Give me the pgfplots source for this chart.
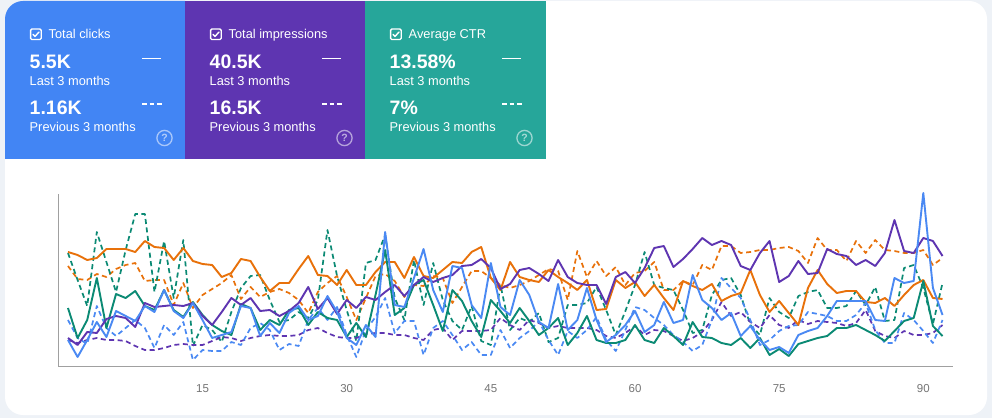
\documentclass[border=0pt]{standalone}
\usepackage{pgfplots}
\pgfplotsset{compat=1.18}
\usepackage{pgfplotstable}
\usepackage{fontspec}
\setmainfont{Liberation Sans}

\definecolor{pagebg}{HTML}{EEF2F7}
\definecolor{tileblue}{HTML}{4285F4}
\definecolor{tilepurple}{HTML}{5E35B1}
\definecolor{tileteal}{HTML}{26A69A}
\definecolor{clkcol}{HTML}{4A89F3}
\definecolor{impcol}{HTML}{5E35B1}
\definecolor{ctrcol}{HTML}{0B8A74}
\definecolor{poscol}{HTML}{E8710A}
\definecolor{axisgray}{HTML}{A0A0A0}
\definecolor{ticktext}{HTML}{757575}

% daily series (pixel row of each point; axis base = 366)
\pgfplotstableread{
day clk clkp imp impp ctr ctrp pos posp
1 340 320 338 340 308 253 252 266
2 357 338 345 343 338 280 255 279
3 340 344 332 340 320 306 260 280
4 322 306 333 338 278 232 258 274
5 337 328 319 340 328 262 249 277
6 311 336 316 340 294 292 249 269
7 316 328 318 341 298 250 249 265
8 321 320 327 346 291 214 252 263
9 306 328 303 350 306 214 241 281
10 312 348 307 350 310 292 247 280
11 290 325 306 348 290 241 248 280
12 311 335 305 345 310 298 260 305
13 318 322 306 344 317 240 248 283
14 303 360 303 345 302 346 261 308
15 320 350 316 345 315 325 264 295
16 338 351 325 341 325 330 265 289
17 335 351 312 337 331 342 277 283
18 332 342 298 338 335 312 273 275
19 306 345 305 341 304 288 259 299
20 308 328 298 338 308 276 261 287
21 336 323 311 336 330 275 277 297
22 323 330 310 335 320 300 291 292
23 333 350 316 336 325 322 283 289
24 313 344 311 336 310 320 283 293
25 306 346 303 335 308 312 269 300
26 320 320 287 330 325 318 256 313
27 316 308 309 328 312 300 275 292
28 296 320 298 333 318 230 276 283
29 312 307 314 337 320 276 285 276
30 338 335 300 338 337 310 270 297
31 345 357 308 338 323 341 285 320
32 325 330 297 334 337 263 285 298
33 337 317 300 333 295 260 272 276
34 232 298 292 333 250 235 262 274
35 305 333 285 335 315 298 262 281
36 307 321 296 335 308 320 278 297
37 278 321 285 338 285 260 257 285
38 249 355 277 340 280 305 276 286
39 290 328 282 330 305 263 278 276
40 312 321 278 328 331 300 270 278
41 266 335 275 340 290 321 262 303
42 268 350 266 331 301 330 263 287
43 305 342 265 331 321 306 252 271
44 318 355 259 331 337 341 247 271
45 263 355 268 330 300 345 278 278
46 307 330 289 318 311 285 290 285
47 315 348 284 325 323 330 262 288
48 280 338 270 330 308 318 277 285
49 295 331 268 320 321 322 280 281
50 322 321 274 323 335 313 282 275
51 328 340 281 328 328 342 270 269
52 284 355 260 326 318 338 277 271
53 330 331 277 328 345 305 283 300
54 320 338 283 328 333 305 290 251
55 288 330 285 328 316 303 280 277
56 320 317 285 330 340 287 310 261
57 342 340 304 336 343 310 309 276
58 335 351 277 338 343 335 280 267
59 325 330 272 333 340 311 288 285
60 311 307 283 326 325 285 282 273
61 332 310 268 335 340 252 296 271
62 325 318 248 330 343 285 285 262
63 302 325 246 331 328 288 298 290
64 323 335 267 336 336 290 310 290
65 320 342 259 341 345 310 281 281
66 275 351 249 338 322 333 286 285
67 300 345 238 332 337 330 290 265
68 308 320 245 320 338 295 284 270
69 320 278 241 302 343 280 301 246
70 313 288 245 316 345 278 296 246
71 336 298 266 312 338 295 293 253
72 326 320 270 322 348 325 270 252
73 340 345 253 328 338 335 295 250
74 350 340 241 315 355 298 312 250
75 347 331 282 325 349 312 301 248
76 353 326 276 328 356 318 313 247
77 335 325 261 320 344 296 325 251
78 331 312 274 324 341 292 288 263
79 328 314 273 321 338 290 270 238
80 316 316 249 322 336 308 284 250
81 301 321 254 323 328 308 293 250
82 301 321 256 326 328 306 291 261
83 301 315 265 323 325 291 291 241
84 301 303 260 310 330 305 302 253
85 320 330 266 331 335 287 303 240
86 321 343 253 336 341 321 298 250
87 278 343 220 338 331 320 306 251
88 283 313 251 331 321 268 295 253
89 281 320 253 335 318 265 285 253
90 193 331 238 335 281 288 280 250
91 288 343 241 333 326 324 298 265
92 315 320 256 325 336 283 299 258
}\daily

\newcommand{\tilebody}[4]{%
  \begin{scope}[shift={(#1,0)}]
    \draw[white, line width=1.3pt, rounded corners=1.3pt] (30.6,378.4) rectangle (41.2,389);
    \draw[white, line width=1.4pt, line cap=round, line join=round] (33,383.6) -- (35,381.5) -- (39,386);
    \node[anchor=base west, inner sep=0, text=white, font=\fontsize{12.8}{15}\selectfont] at (48.5,379.5) {#2};
    \node[anchor=base west, inner sep=0, text=white, font=\fontsize{19.5}{22}\selectfont\bfseries] at (29.5,349) {#3};
    \node[anchor=base west, inner sep=0, text=white, font=\fontsize{12.8}{15}\selectfont] at (29.5,332) {Last 3 months};
    \node[anchor=base west, inner sep=0, text=white, font=\fontsize{19.5}{22}\selectfont\bfseries] at (29.5,303) {#4};
    \node[anchor=base west, inner sep=0, text=white, font=\fontsize{12.8}{15}\selectfont] at (29.5,286.5) {Previous 3 months};
    \draw[white, line width=1.7pt] (142,359.5) -- (161,359.5);
    \draw[white, line width=1.7pt, dash pattern=on 4.5pt off 3pt] (142,314) -- (162,314);
    \draw[white, opacity=0.55, line width=1.3pt] (164.5,280) circle (7.6);
    \node[text=white, opacity=0.6, inner sep=0, font=\fontsize{10.5}{11}\selectfont\bfseries] at (164.5,280) {?};
  \end{scope}}

\begin{document}
\begin{tikzpicture}[x=1pt, y=1pt]
  \useasboundingbox (0,0) rectangle (992,418);
  \fill[pagebg] (0,0) rectangle (992,418);
  \fill[white, rounded corners=18pt] (5,3) rectangle (987,417);
  % metric tiles
  \fill[tileblue] (185,259) -- (5,259) [rounded corners=18pt] -- (5,417) [sharp corners] -- (185,417) -- cycle;
  \fill[tilepurple] (185,259) rectangle (365,417);
  \fill[tileteal] (365,259) rectangle (545.5,417);
  \tilebody{0}{Total clicks}{5.5K}{1.16K}
  \tilebody{180}{Total impressions}{40.5K}{16.5K}
  \tilebody{360}{Average CTR}{13.58\%}{7\%}

  \begin{axis}[
      at={(58pt,52pt)}, anchor=south west,
      scale only axis,
      width=895pt, height=172pt,
      xmin=-0.04, xmax=93.09,
      ymin=0, ymax=172,
      clip=false,
      axis x line*=bottom, axis y line*=left,
      axis line style={draw=axisgray, line width=1pt},
      xtick={15,30,45,60,75,90},
      ytick=\empty,
      major tick length=0pt,
      /pgf/number format/assume math mode=true,
      xticklabel style={font=\fontsize{11.5}{13}\selectfont, text=ticktext, anchor=base, yshift=-26pt},
      every axis plot/.append style={mark=none, line join=round},
    ]
    \addplot[draw=poscol, line width=1.7pt, dash pattern=on 5pt off 3.5pt] table[x=day, y expr=366-\thisrow{posp}] {\daily};
    \addplot[draw=ctrcol, line width=1.7pt, dash pattern=on 5pt off 3.5pt] table[x=day, y expr=366-\thisrow{ctrp}] {\daily};
    \addplot[draw=impcol, line width=1.7pt, dash pattern=on 5pt off 3.5pt] table[x=day, y expr=366-\thisrow{impp}] {\daily};
    \addplot[draw=clkcol, line width=1.7pt, dash pattern=on 5pt off 3.5pt] table[x=day, y expr=366-\thisrow{clkp}] {\daily};
    \addplot[draw=poscol, line width=1.9pt] table[x=day, y expr=366-\thisrow{pos}] {\daily};
    \addplot[draw=ctrcol, line width=1.9pt] table[x=day, y expr=366-\thisrow{ctr}] {\daily};
    \addplot[draw=impcol, line width=1.9pt] table[x=day, y expr=366-\thisrow{imp}] {\daily};
    \addplot[draw=clkcol, line width=1.9pt] table[x=day, y expr=366-\thisrow{clk}] {\daily};
  \end{axis}
\end{tikzpicture}
\end{document}
